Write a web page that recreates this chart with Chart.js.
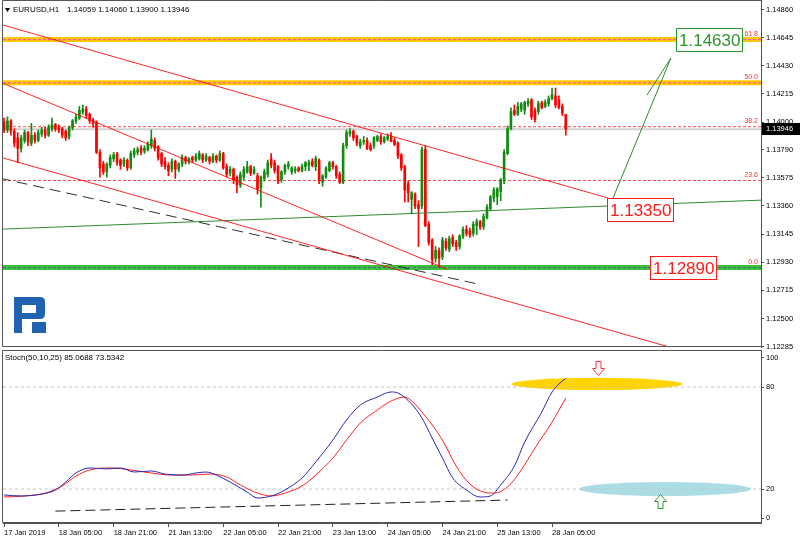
<!DOCTYPE html>
<html>
<head>
<meta charset="utf-8">
<title>EURUSD H1</title>
<script src="https://cdn.jsdelivr.net/npm/chart.js@4.4.1/dist/chart.umd.min.js"></script>
<style>
  html, body { margin: 0; padding: 0; background: #fff; }
  #wrap { position: relative; width: 800px; height: 542px; overflow: hidden; background: #fff; }
  canvas { position: absolute; left: 0; }
  #main { top: 0; }
  #stoch { top: 350px; }
</style>
</head>
<body>
<div id="wrap">
  <canvas id="main" width="800" height="350"></canvas>
  <canvas id="stoch" width="800" height="192"></canvas>
</div>
<script>
// ── EURUSD, H1 — candles, fibo levels, trend lines + Stoch(50,10,25) ─────────

const opens = [
  1.1400,1.1394,1.1401,1.1393,1.1388,1.1380,1.1386,1.1392,1.1384,1.1390,
  1.1386,1.1391,1.1394,1.1390,1.1395,1.1398,1.1396,1.1395,1.1393,1.1389,
  1.1396,1.1401,1.1403,1.1408,1.1410,1.1406,1.1401,1.1400,1.1377,1.1368,
  1.1362,1.1367,1.1372,1.1376,1.1371,1.1368,1.1371,1.1365,1.1375,1.1377,
  1.1380,1.1378,1.1379,1.1382,1.1386,1.1381,1.1376,1.1370,1.1367,1.1364,
  1.1370,1.1364,1.1368,1.1373,1.1370,1.1373,1.1371,1.1372,1.1375,1.1371,
  1.1373,1.1370,1.1374,1.1371,1.1376,1.1366,1.1361,1.1364,1.1358,1.1352,
  1.1358,1.1362,1.1366,1.1361,1.1359,1.1350,1.1357,1.1360,1.1372,1.1369,
  1.1366,1.1356,1.1362,1.1366,1.1362,1.1363,1.1365,1.1363,1.1366,1.1367,
  1.1370,1.1366,1.1371,1.1354,1.1358,1.1363,1.1369,1.1366,1.1360,1.1354,
  1.1382,1.1391,1.1393,1.1389,1.1382,1.1385,1.1386,1.1382,1.1382,1.1386,
  1.1389,1.1385,1.1387,1.1389,1.1386,1.1384,1.1375,1.1366,1.1353,1.1341,
  1.1345,1.1337,1.1336,1.1379,1.1322,1.1310,1.1296,1.1302,1.1297,1.1309,
  1.1303,1.1312,1.1308,1.1305,1.1313,1.1318,1.1317,1.1315,1.1321,1.1324,
  1.1320,1.1327,1.1334,1.1342,1.1343,1.1347,1.1355,1.1376,1.1395,1.1409,
  1.1406,1.1410,1.1409,1.1414,1.1417,1.1409,1.1408,1.1415,1.1412,1.1414,
  1.1418,1.1420,1.1417,1.1412,1.14059
];
const highs = [
  1.1403,1.1404,1.1402,1.1395,1.1392,1.1390,1.1394,1.1393,1.1399,1.1392,
  1.1394,1.1396,1.1396,1.1398,1.1403,1.1399,1.1398,1.1396,1.1394,1.1397,
  1.1402,1.1406,1.1412,1.1413,1.1412,1.1407,1.1403,1.1401,1.1379,1.1370,
  1.1369,1.1375,1.1377,1.1377,1.1372,1.1373,1.1372,1.1378,1.1380,1.1381,
  1.1382,1.1382,1.1385,1.1394,1.1388,1.1382,1.1377,1.1373,1.1369,1.1372,
  1.1371,1.1369,1.1375,1.1374,1.1373,1.1374,1.1376,1.1378,1.1376,1.1376,
  1.1374,1.1376,1.1375,1.1378,1.1377,1.1368,1.1366,1.1365,1.1359,1.1362,
  1.1366,1.1370,1.1367,1.1366,1.1361,1.1359,1.1364,1.1371,1.1376,1.1371,
  1.1367,1.1363,1.1368,1.1370,1.1366,1.1366,1.1366,1.1368,1.1370,1.1371,
  1.1372,1.1374,1.1372,1.1360,1.1366,1.1370,1.1370,1.1367,1.1362,1.1384,
  1.1394,1.1395,1.1394,1.1390,1.1387,1.1389,1.1388,1.1384,1.1389,1.1390,
  1.1391,1.1389,1.1391,1.1392,1.1388,1.1385,1.1376,1.1367,1.1355,1.1347,
  1.1346,1.1340,1.1381,1.1382,1.1324,1.1311,1.1305,1.1304,1.1312,1.1311,
  1.1313,1.1314,1.1310,1.1314,1.1320,1.1321,1.1319,1.1324,1.1326,1.1325,
  1.1330,1.1337,1.1344,1.1350,1.1350,1.1357,1.1379,1.1397,1.1411,1.1413,
  1.1415,1.1415,1.1416,1.1418,1.1418,1.1411,1.1416,1.1416,1.1417,1.1420,
  1.1426,1.1426,1.1420,1.1414,1.14060
];
const lows = [
  1.1392,1.1392,1.1390,1.1381,1.1369,1.1377,1.1384,1.1382,1.1382,1.1384,
  1.1385,1.1389,1.1388,1.1389,1.1393,1.1393,1.1392,1.1388,1.1386,1.1387,
  1.1394,1.1399,1.1402,1.1406,1.1403,1.1399,1.1396,1.1376,1.1358,1.1360,
  1.1358,1.1365,1.1370,1.1367,1.1364,1.1366,1.1363,1.1364,1.1373,1.1375,
  1.1375,1.1376,1.1378,1.1380,1.1378,1.1371,1.1366,1.1364,1.1359,1.1362,
  1.1357,1.1362,1.1366,1.1368,1.1368,1.1369,1.1370,1.1371,1.1369,1.1370,
  1.1368,1.1369,1.1369,1.1370,1.1364,1.1358,1.1359,1.1353,1.1346,1.1350,
  1.1356,1.1361,1.1359,1.1360,1.1345,1.1335,1.1355,1.1358,1.1365,1.1361,
  1.1353,1.1354,1.1360,1.1364,1.1360,1.1361,1.1362,1.1362,1.1363,1.1363,
  1.1366,1.1363,1.1353,1.1351,1.1357,1.1362,1.1364,1.1357,1.1353,1.1353,
  1.1380,1.1389,1.1386,1.1382,1.1380,1.1383,1.1379,1.1378,1.1380,1.1385,
  1.1383,1.1384,1.1386,1.1385,1.1382,1.1372,1.1363,1.1339,1.1339,1.1330,
  1.1334,1.1305,1.1334,1.1320,1.1306,1.1291,1.1293,1.1289,1.1295,1.1302,
  1.1301,1.1305,1.1302,1.1303,1.1311,1.1313,1.1312,1.1313,1.1314,1.1318,
  1.1318,1.1326,1.1333,1.1339,1.1337,1.1340,1.1353,1.1375,1.1394,1.1405,
  1.1405,1.1408,1.1406,1.1412,1.1402,1.1400,1.1406,1.1410,1.1411,1.1412,
  1.1417,1.1411,1.1410,1.1405,1.13900
];
const closes = [
  1.1394,1.1401,1.1393,1.1384,1.1380,1.1388,1.1392,1.1385,1.1390,1.1386,
  1.1392,1.1394,1.1390,1.1396,1.1398,1.1395,1.1394,1.1390,1.1388,1.1396,
  1.1401,1.1404,1.1409,1.1410,1.1405,1.1401,1.1399,1.1377,1.1365,1.1362,
  1.1368,1.1373,1.1375,1.1369,1.1367,1.1371,1.1365,1.1376,1.1378,1.1379,
  1.1377,1.1380,1.1383,1.1387,1.1380,1.1373,1.1368,1.1366,1.1363,1.1370,
  1.1364,1.1368,1.1373,1.1370,1.1372,1.1371,1.1374,1.1376,1.1371,1.1374,
  1.1370,1.1374,1.1371,1.1376,1.1365,1.1360,1.1364,1.1356,1.1352,1.1360,
  1.1364,1.1366,1.1361,1.1364,1.1349,1.1358,1.1362,1.1369,1.1367,1.1363,
  1.1355,1.1362,1.1367,1.1368,1.1365,1.1364,1.1363,1.1366,1.1369,1.1369,
  1.1367,1.1372,1.1355,1.1359,1.1365,1.1369,1.1366,1.1359,1.1354,1.1382,
  1.1392,1.1393,1.1388,1.1384,1.1385,1.1386,1.1380,1.1379,1.1388,1.1389,
  1.1385,1.1388,1.1389,1.1385,1.1383,1.1374,1.1365,1.1348,1.1346,1.1346,
  1.1336,1.1334,1.1379,1.1321,1.1308,1.1295,1.1302,1.1296,1.1310,1.1304,
  1.1311,1.1307,1.1305,1.1313,1.1318,1.1315,1.1314,1.1322,1.1324,1.1320,
  1.1328,1.1335,1.1343,1.1348,1.1349,1.1356,1.1377,1.1395,1.1408,1.1406,
  1.1412,1.1414,1.1415,1.1416,1.1404,1.1402,1.1414,1.1411,1.1415,1.1418,
  1.1421,1.1413,1.1411,1.1407,1.13946
];

// time axis (bar index -> label), price axis ticks
const dateTicks = [0, 16, 32, 48, 64, 80, 96, 112, 128, 144, 160];
const dateLabels = ['17 Jan 2019', '18 Jan 05:00', '18 Jan 21:00', '21 Jan 13:00', '22 Jan 05:00',
  '22 Jan 21:00', '23 Jan 13:00', '24 Jan 05:00', '24 Jan 21:00', '25 Jan 13:00', '28 Jan 05:00'];
const priceTicks = [1.14860, 1.14645, 1.14430, 1.14215, 1.14000, 1.13790, 1.13575,
  1.13360, 1.13145, 1.12930, 1.12715, 1.12500, 1.12285];

// fibo retracement
const fibLevels = [1.14630, 1.14300, 1.13965, 1.13554, 1.12890];
const fibNames = ['61.8', '50.0', '38.2', '23.6', '0.0'];

// drawn objects: [bar, price] end points
const channelTop = [[-1.2, 1.14748], [176.4, 1.13420]];
const channelMid = [[-1.2, 1.14306], [129.3, 1.12877]];
const channelLow = [[-1.2, 1.13733], [197.4, 1.12259]];
const dashedTrend = [[-1.2, 1.13572], [138.4, 1.12763]];
const greenTrend = [[-0.3, 1.13183], [221, 1.13404]];
const targetArrow = [[177.8, 1.13420], [194.7, 1.14489]];
const arrowWing = [[187.7, 1.14206], [194.7, 1.14489]];

const priceTags = [
  { text: '1.14630', bar: 196.2, price: 1.14630, color: '#2c962c' },
  { text: '1.13350', bar: 176.1, price: 1.13330, color: '#ff1a1a' },
  { text: '1.12890', bar: 188.6, price: 1.12885, color: '#ff1a1a' }
];

// stochastic %K / %D read at sample bars
const kBars = [0,5,11,15,18,21,25,30,34,38,43,47,52,56,59,62,66,71,74,78,82,87,91,96,100,104,109,113,115,119,122,125,128,131,135,139,142,145,149,152,157,160,162,164];
const kVals = [16.5,15.9,17,19.4,24.1,29.4,32.4,31.8,32.4,30,30.6,28.8,28.2,29.4,30,28.2,24.1,18.2,14.7,15.9,19.4,26.5,35.9,48.8,60.6,69.4,74.1,77.1,76.5,70,61.8,50,38.2,26.5,19.4,15.3,15.9,22.4,33.5,47.6,65.3,77.1,81.8,85.0688];
const dBars = [0,6,12,17,21,25,31,37,43,49,55,60,65,69,74,78,82,87,91,96,100,104,109,113,117,119,123,128,132,136,140,143,147,151,155,160,164];
const dVals = [15.3,15.9,17.6,21.8,27.6,31.2,32.4,31.2,29.4,28.2,28.2,28.8,27.1,22.4,17.6,15.9,17.6,21.8,28.2,38.2,48.8,58.8,66.5,71.8,74.1,71.8,62.9,48.8,33.5,22.9,18.2,17.6,21.2,31.2,44.1,59.4,73.5342];
const stochTrend = [[15, 7], [147, 13.5]];
const stochLevels = [80, 20];
const stochTickLabels = ['0', '20', '80', '100'];
const stochTickAt = [2.9, 20, 80, 97.4];   // MT4 pulls the 0/100 captions inside the window

const X_MIN = -0.3, X_MAX = 221;
const FONT = '"Liberation Sans", Arial, sans-serif';
const UP = '#108c10', DOWN = '#ff0000';

Chart.defaults.font.family = FONT;
Chart.defaults.font.size = 7.5;
Chart.defaults.color = '#000';

function seg(points, color, width, dash, order) {
  return {
    type: 'line',
    data: points.map(p => ({ x: p[0], y: p[1] })),
    borderColor: color,
    borderWidth: width,
    borderDash: dash || [],
    pointRadius: 0,
    fill: false,
    tension: 0,
    clip: 0,
    order: order
  };
}

const candleColor = closes.map((c, i) => (c >= opens[i] ? UP : DOWN));
const bodies = opens.map((o, i) => {
  const c = closes[i];
  return { x: i, y: o === c ? [o - 0.00001, o + 0.00001] : [Math.min(o, c), Math.max(o, c)] };
});
const wicks = opens.map((o, i) => ({ x: i, y: [lows[i], highs[i]] }));

const fibSets = [];
fibLevels.forEach((lvl, i) => {
  const pts = [[X_MIN, lvl], [X_MAX, lvl]];
  if (i < 2) {
    fibSets.push(seg(pts, '#ffc800', 5, [], 6));
    fibSets.push(seg(pts, '#ff44cc', 1, [3, 2], 5));
  } else if (i === 4) {
    fibSets.push(seg(pts, '#3cc03c', 5, [], 6));
    fibSets.push(seg(pts, '#3f6f8f', 1, [3, 2], 5));
  } else {
    fibSets.push(seg(pts, 'rgba(255,40,40,0.85)', 1, [3, 2], 5));
  }
});
const lastClose = closes[closes.length - 1];
fibSets.push(seg([[X_MIN, lastClose], [X_MAX, lastClose]], '#d2d2d2', 2, [], 7));

function frame(ctx, a, top) {
  ctx.strokeStyle = '#555';
  ctx.lineWidth = 1;
  ctx.beginPath();
  ctx.moveTo(a.right, top + 0.5);
  ctx.lineTo(2.5, top + 0.5);
  ctx.lineTo(2.5, a.bottom - 0.5);
  ctx.lineTo(a.right, a.bottom - 0.5);
  ctx.stroke();
}

function drawLogo(ctx) {
  ctx.fillStyle = '#1f62b1';
  ctx.fillRect(14, 297, 8, 36);
  ctx.fillRect(14, 297, 26, 8);
  ctx.beginPath();
  ctx.moveTo(36, 297);
  ctx.lineTo(40, 297);
  ctx.quadraticCurveTo(45, 297, 45, 302);
  ctx.lineTo(45, 314);
  ctx.quadraticCurveTo(45, 319, 40, 319);
  ctx.lineTo(36, 319);
  ctx.closePath();
  ctx.fill();
  ctx.fillRect(22, 313, 18, 6);
  ctx.fillRect(32, 322, 14, 11);
}

const mainOverlay = {
  id: 'mainOverlay',
  afterDatasetsDraw(chart) {
    const { ctx, chartArea: a, scales: { x, y } } = chart;
    ctx.save();
    ctx.font = '7px ' + FONT;
    ctx.fillStyle = '#ff3030';
    ctx.textAlign = 'right';
    ctx.textBaseline = 'bottom';
    fibLevels.forEach((v, i) => ctx.fillText(fibNames[i], a.right - 3, y.getPixelForValue(v) - 2));

    ctx.font = '17px ' + FONT;
    ctx.textAlign = 'left';
    ctx.textBaseline = 'middle';
    priceTags.forEach(t => {
      const l = Math.round(x.getPixelForValue(t.bar));
      const cy = Math.round(y.getPixelForValue(t.price));
      const w = Math.round(ctx.measureText(t.text).width) + 5;
      ctx.fillStyle = '#fff';
      ctx.fillRect(l, cy - 12, w, 24);
      ctx.strokeStyle = t.color;
      ctx.lineWidth = 1;
      ctx.strokeRect(l + 0.5, cy - 11.5, w, 23);
      ctx.fillStyle = t.color;
      ctx.fillText(t.text, l + 3, cy + 1);
    });
    ctx.restore();
  },
  afterDraw(chart) {
    const { ctx, chartArea: a, scales: { y } } = chart;
    ctx.save();
    frame(ctx, a, 0);
    // current price tag
    const py = Math.round(y.getPixelForValue(lastClose));
    ctx.fillStyle = '#000';
    ctx.fillRect(a.right + 1, py - 6, 39, 12);
    ctx.fillStyle = '#fff';
    ctx.font = '7.5px ' + FONT;
    ctx.textBaseline = 'middle';
    ctx.fillText(lastClose.toFixed(5), a.right + 5, py);
    // header
    ctx.fillStyle = '#000';
    ctx.beginPath();
    ctx.moveTo(5, 8); ctx.lineTo(10, 8); ctx.lineTo(7.5, 12); ctx.closePath();
    ctx.fill();
    ctx.font = '8px ' + FONT;
    ctx.fillText('EURUSD,H1', 13, 10);
    ctx.fillText([opens, highs, lows, closes].map(s => s[s.length - 1].toFixed(5)).join(' '), 67, 10);
    drawLogo(ctx);
    ctx.restore();
  }
};

new Chart(document.getElementById('main'), {
  type: 'bar',
  data: {
    datasets: [
      seg(channelTop, 'rgba(255,0,0,0.85)', 1, [], 1),
      seg(channelMid, 'rgba(255,0,0,0.85)', 1, [], 1),
      seg(channelLow, 'rgba(255,0,0,0.85)', 1, [], 1),
      seg(dashedTrend, '#303030', 1, [11, 6], 1),
      seg(greenTrend, '#2e8b2e', 1, [], 1),
      seg(targetArrow, '#2e8b2e', 1, [], 1),
      seg(arrowWing, '#2e8b2e', 1, [], 1),
      { type: 'bar', data: bodies, backgroundColor: candleColor, barThickness: 2, grouped: false, borderWidth: 0, order: 2 },
      { type: 'bar', data: wicks, backgroundColor: candleColor, barThickness: 1, grouped: false, borderWidth: 0, order: 3 },
      ...fibSets
    ]
  },
  options: {
    responsive: false,
    animation: false,
    devicePixelRatio: 1,
    layout: { padding: { left: 3, top: 0, right: 0, bottom: 3 }, autoPadding: false },
    plugins: { legend: { display: false }, tooltip: { enabled: false } },
    scales: {
      x: { type: 'linear', display: false, min: X_MIN, max: X_MAX, offset: false },
      y: {
        type: 'linear', position: 'right', min: 1.122827, max: 1.149326,
        afterBuildTicks: s => { s.ticks = priceTicks.map(v => ({ value: v })); },
        afterFit: s => { s.width = 39; s.paddingTop = 0; s.paddingBottom = 0; },
        ticks: { callback: v => v.toFixed(5), padding: 2, autoSkip: false },
        grid: { drawOnChartArea: false, tickLength: 3, color: '#505050' },
        border: { color: '#505050' }
      }
    }
  },
  plugins: [mainOverlay]
});

function hollowArrow(ctx, cx, cy, dir, color) {
  // dir = 1 points down, -1 points up
  ctx.beginPath();
  ctx.moveTo(cx - 2.5, cy - 7 * dir);
  ctx.lineTo(cx + 2.5, cy - 7 * dir);
  ctx.lineTo(cx + 2.5, cy);
  ctx.lineTo(cx + 6, cy);
  ctx.lineTo(cx, cy + 7 * dir);
  ctx.lineTo(cx - 6, cy);
  ctx.lineTo(cx - 2.5, cy);
  ctx.closePath();
  ctx.fillStyle = '#fff';
  ctx.fill();
  ctx.strokeStyle = color;
  ctx.lineWidth = 1;
  ctx.stroke();
}

const stochOverlay = {
  id: 'stochOverlay',
  beforeDatasetsDraw(chart) {
    const { ctx, scales: { x, y } } = chart;
    const blob = (bar, val, spanBars, spanVal, color) => {
      const cx = x.getPixelForValue(bar), cy = y.getPixelForValue(val);
      const rx = x.getPixelForValue(bar + spanBars) - cx;
      const ry = cy - y.getPixelForValue(val + spanVal);
      ctx.beginPath();
      ctx.ellipse(cx, cy, rx, ry, 0, 0, Math.PI * 2);
      ctx.fillStyle = color;
      ctx.fill();
    };
    ctx.save();
    blob(173.1, 81.8, 25, 3.6, '#ffd400');
    blob(193, 20, 25.1, 4.1, '#acdde4');
    ctx.restore();
  },
  afterDatasetsDraw(chart) {
    const { ctx, scales: { x, y } } = chart;
    ctx.save();
    hollowArrow(ctx, Math.round(x.getPixelForValue(173.4)) + 0.5, Math.round(y.getPixelForValue(91.5)) + 0.5, 1, '#ff3040');
    hollowArrow(ctx, Math.round(x.getPixelForValue(191.5)) + 0.5, Math.round(y.getPixelForValue(13)) + 0.5, -1, '#2a9a2a');
    ctx.restore();
  },
  afterDraw(chart) {
    const { ctx, chartArea: a } = chart;
    ctx.save();
    frame(ctx, a, 0);
    ctx.fillStyle = '#000';
    ctx.font = '8px ' + FONT;
    ctx.textBaseline = 'middle';
    ctx.fillText('Stoch(50,10,25) ' + kVals[kVals.length - 1].toFixed(4) + ' ' + dVals[dVals.length - 1].toFixed(4), 5, 8);
    ctx.restore();
  }
};

new Chart(document.getElementById('stoch'), {
  type: 'line',
  data: {
    datasets: [
      { data: kBars.map((b, i) => ({ x: b, y: kVals[i] })), borderColor: '#2828b4', borderWidth: 1,
        pointRadius: 0, cubicInterpolationMode: 'monotone', clip: 0, order: 1 },
      { data: dBars.map((b, i) => ({ x: b, y: dVals[i] })), borderColor: '#ff2020', borderWidth: 1,
        pointRadius: 0, cubicInterpolationMode: 'monotone', clip: 0, order: 2 },
      seg(stochTrend, '#202020', 1, [10, 5], 3),
      ...stochLevels.map(v => seg([[X_MIN, v], [X_MAX, v]], '#c4c4c4', 1, [3, 3], 4))
    ]
  },
  options: {
    responsive: false,
    animation: false,
    devicePixelRatio: 1,
    layout: { padding: { left: 3, top: 0, right: 0, bottom: 0 }, autoPadding: false },
    plugins: { legend: { display: false }, tooltip: { enabled: false } },
    scales: {
      x: {
        type: 'linear', min: X_MIN, max: X_MAX, offset: false,
        afterBuildTicks: s => { s.ticks = dateTicks.map(v => ({ value: v })); },
        afterFit: s => { s.height = 19; s.paddingLeft = 0; s.paddingRight = 0; },
        ticks: { callback: (v, i) => dateLabels[i], align: 'start', autoSkip: false, maxRotation: 0, padding: 1 },
        grid: { drawOnChartArea: false, tickLength: 4, color: '#505050' },
        border: { color: '#505050' }
      },
      y: {
        type: 'linear', position: 'right', min: 0, max: 101.8,
        afterBuildTicks: s => { s.ticks = stochTickAt.map(v => ({ value: v })); },
        afterFit: s => { s.width = 39; s.paddingTop = 0; s.paddingBottom = 0; },
        ticks: { callback: (v, i) => stochTickLabels[i], padding: 2, autoSkip: false },
        grid: { drawOnChartArea: false, tickLength: 3, color: '#505050' },
        border: { color: '#505050' }
      }
    }
  },
  plugins: [stochOverlay]
});
</script>
</body>
</html>
